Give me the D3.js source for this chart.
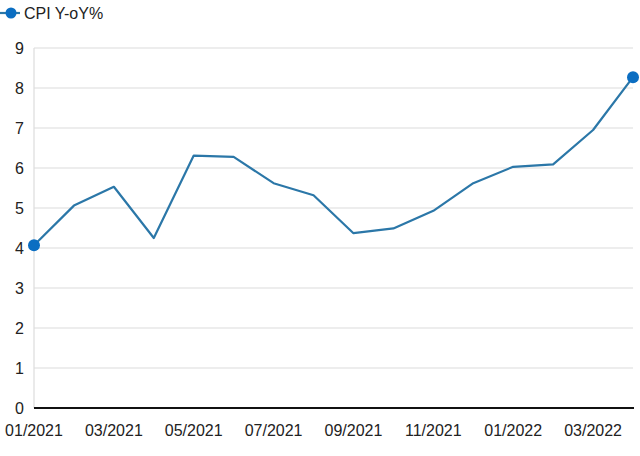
<!DOCTYPE html>
<html><head><meta charset="utf-8">
<script src="https://cdn.jsdelivr.net/npm/d3@7"></script>
<style>body{margin:0;background:#fff}svg{display:block}text{font-family:"Liberation Sans",Arial,sans-serif;fill:#222}</style>
</head><body><svg id="c" width="640" height="456"></svg>
<script>
const months = ["01/2021","02/2021","03/2021","04/2021","05/2021","06/2021","07/2021","08/2021","09/2021","10/2021","11/2021","12/2021","01/2022","02/2022","03/2022","04/2022"];
const cpi = [4.07,5.06,5.53,4.25,6.31,6.28,5.62,5.32,4.37,4.49,4.93,5.62,6.03,6.09,6.95,8.27];
const xTickLabels = ["01/2021","03/2021","05/2021","07/2021","09/2021","11/2021","01/2022","03/2022"];
const yTicks = [0,1,2,3,4,5,6,7,8,9];
const seriesName = "CPI Y-oY%";

const svg = d3.select("#c");
const x = d3.scalePoint().domain(months).range([34,633]);
const y = d3.scaleLinear().domain([0,9]).range([408,48]);
const lineColor = "#2b77a8", markColor = "#0b6ec2";

// gridlines
svg.append("g").selectAll("line").data(yTicks.filter(d=>d>0)).join("line")
  .attr("x1",34).attr("x2",633).attr("y1",d=>y(d)).attr("y2",d=>y(d))
  .attr("stroke","#dcdcdc").attr("stroke-width",1.2);
// left axis line
svg.append("line").attr("x1",34).attr("x2",34).attr("y1",y(9)).attr("y2",y(0)).attr("stroke","#dcdcdc").attr("stroke-width",1.2);
// y labels
svg.append("g").selectAll("text").data(yTicks).join("text")
  .attr("x",24).attr("y",d=>y(d)).attr("dy","0.36em").attr("text-anchor","end")
  .attr("font-size",16).text(d=>d);
// baseline
svg.append("line").attr("x1",34).attr("x2",634).attr("y1",y(0)).attr("y2",y(0)).attr("stroke","#111").attr("stroke-width",2);
// x labels
svg.append("g").selectAll("text").data(xTickLabels).join("text")
  .attr("x",d=>x(d)).attr("y",436).attr("text-anchor","middle").attr("font-size",16).text(d=>d);
// line
svg.append("path").datum(cpi).attr("fill","none").attr("stroke",lineColor).attr("stroke-width",2.2)
  .attr("stroke-linejoin","round")
  .attr("d",d3.line().x((d,i)=>x(months[i])).y(d=>y(d)));
// end markers
const ends = [0, cpi.length-1];
svg.append("g").selectAll("circle").data(ends).join("circle")
  .attr("cx",i=>x(months[i])).attr("cy",i=>y(cpi[i])).attr("r",6).attr("fill",markColor);
// legend
const lg = svg.append("g");
lg.append("line").attr("x1",0).attr("x2",20).attr("y1",13).attr("y2",13).attr("stroke",lineColor).attr("stroke-width",2.2);
lg.append("circle").attr("cx",11).attr("cy",13).attr("r",5.5).attr("fill",markColor);
lg.append("text").attr("x",24).attr("y",19).attr("font-size",16).text(seriesName);
</script></body></html>
